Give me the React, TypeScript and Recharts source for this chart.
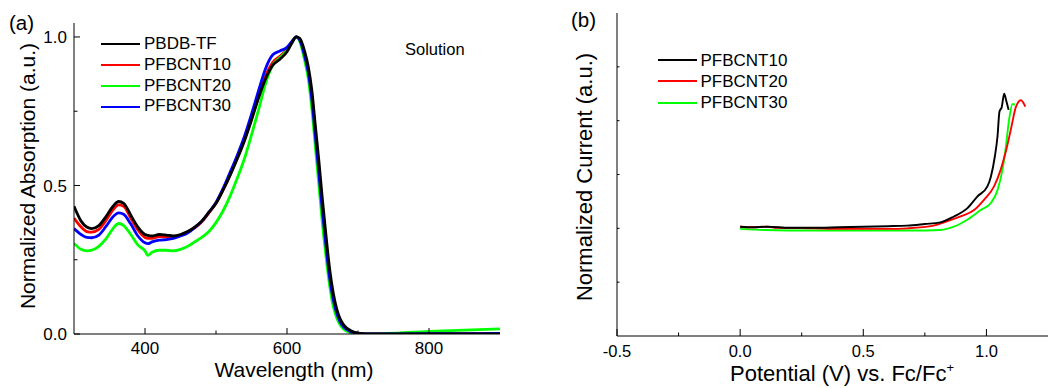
import React from 'react';
import { LineChart, Line, XAxis, YAxis, Label, Legend } from 'recharts';

const FONT = '"Liberation Sans", Arial, Helvetica, sans-serif';

// (a) normalized absorption in solution
const wavelengths = [
  300, 310, 318, 325, 335, 345, 355, 363, 370, 380,
  390, 400, 404, 410, 420, 430, 440, 450, 460, 470,
  480, 490, 500, 510, 520, 530, 540, 550, 560, 570,
  580, 590, 600, 607, 613, 618, 625, 630, 635, 640,
  645, 650, 655, 660, 665, 670, 675, 680, 690, 700,
  720, 800, 900,
];
const absPBDBTF = [
  0.43, 0.38, 0.36, 0.355, 0.365, 0.395, 0.43, 0.446, 0.44, 0.4,
  0.36, 0.335, 0.332, 0.33, 0.335, 0.333, 0.33, 0.335, 0.345, 0.36,
  0.38, 0.41, 0.44, 0.485, 0.535, 0.59, 0.65, 0.72, 0.795, 0.86,
  0.905, 0.925, 0.95, 0.98, 1.0, 0.995, 0.95, 0.9, 0.82, 0.7,
  0.58, 0.45, 0.33, 0.22, 0.14, 0.085, 0.05, 0.03, 0.011, 0.003,
  0.0, 0.0, 0.0,
];
const absPFBCNT10 = [
  0.39, 0.36, 0.345, 0.343, 0.352, 0.382, 0.418, 0.435, 0.43, 0.39,
  0.35, 0.325, 0.322, 0.322, 0.328, 0.327, 0.325, 0.332, 0.343, 0.357,
  0.378, 0.408, 0.44, 0.485, 0.537, 0.595, 0.655, 0.725, 0.8, 0.87,
  0.915, 0.935, 0.958, 0.985, 1.0, 0.99, 0.94, 0.885, 0.8, 0.675,
  0.555, 0.425, 0.305, 0.2, 0.125, 0.075, 0.044, 0.026, 0.009, 0.002,
  0.0, 0.0, 0.001,
];
const absPFBCNT20 = [
  0.305, 0.285, 0.28, 0.282, 0.295, 0.32, 0.355, 0.372, 0.365, 0.335,
  0.3, 0.28, 0.265, 0.275, 0.282, 0.282, 0.28, 0.285, 0.295, 0.31,
  0.325, 0.345, 0.375, 0.415, 0.465, 0.525, 0.59, 0.67, 0.755, 0.845,
  0.905, 0.93, 0.955, 0.983, 1.0, 0.985, 0.92, 0.86, 0.76, 0.63,
  0.5, 0.37, 0.26, 0.165, 0.095, 0.055, 0.03, 0.016, 0.004, 0.001,
  0.0, 0.009, 0.017,
];
const absPFBCNT30 = [
  0.355, 0.335, 0.325, 0.324, 0.333, 0.362, 0.395, 0.408, 0.403, 0.37,
  0.33, 0.307, 0.304, 0.31, 0.316, 0.318, 0.322, 0.33, 0.34, 0.358,
  0.38, 0.41, 0.443, 0.49, 0.545, 0.602, 0.665, 0.74, 0.82, 0.895,
  0.94, 0.953, 0.965, 0.985, 1.0, 0.99, 0.935, 0.88, 0.79, 0.665,
  0.54, 0.41, 0.295, 0.19, 0.118, 0.07, 0.04, 0.023, 0.008, 0.002,
  0.0, 0.001, 0.002,
];
const absNames = ['PBDB-TF', 'PFBCNT10', 'PFBCNT20', 'PFBCNT30'];

// (b) cyclic voltammetry, oxidation scan
const cv10Potential = [0.0, 0.05, 0.11, 0.2, 0.3, 0.4, 0.5, 0.6, 0.678, 0.75, 0.813, 0.868, 0.922, 0.963, 1.004, 1.018, 1.034, 1.045, 1.053, 1.062, 1.072, 1.08, 1.09];
const cv10Current = [2.03, 2.02, 2.03, 2.01, 2.01, 2.02, 2.03, 2.04, 2.05, 2.08, 2.11, 2.22, 2.37, 2.59, 2.78, 2.96, 3.33, 3.71, 4.17, 4.25, 4.5, 4.38, 4.2];
const cv20Potential = [0.0, 0.05, 0.11, 0.15, 0.3, 0.405, 0.5, 0.6, 0.678, 0.786, 0.84, 0.895, 0.95, 0.99, 1.031, 1.058, 1.079, 1.099, 1.12, 1.14, 1.158];
const cv20Current = [2.03, 2.02, 2.03, 2.01, 2.0, 1.99, 1.99, 1.99, 2.0, 2.05, 2.13, 2.22, 2.34, 2.53, 2.78, 3.09, 3.43, 3.83, 4.26, 4.38, 4.26];
const cv30Potential = [0.0, 0.1, 0.3, 0.5, 0.7, 0.813, 0.868, 0.922, 0.977, 1.018, 1.045, 1.065, 1.079, 1.092, 1.106, 1.116];
const cv30Current = [1.99, 1.97, 1.96, 1.96, 1.96, 1.97, 2.03, 2.16, 2.34, 2.47, 2.71, 3.09, 3.52, 4.02, 4.31, 4.3];
const cvNames = ['PFBCNT10', 'PFBCNT20', 'PFBCNT30'];

const wlTicks = [400, 500, 600, 700, 800];
const wlLabels = [400, 600, 800];
const absTicks = [0, 0.25, 0.5, 0.75, 1.0];
const absLabels = [0, 0.5, 1.0];
const potTicks = [-0.5, -0.25, 0, 0.25, 0.5, 0.75, 1.0];
const potLabels = [-0.5, 0, 0.5, 1.0];
const curTicks = [1, 2, 3, 4, 5];

const absColors = ['#000000', '#ff0000', '#00ff00', '#0000ff'];
const cvColors = ['#000000', '#ff0000', '#00ff00'];

const absData = wavelengths.map((w, i) => ({
  w,
  pbdb: absPBDBTF[i],
  c10: absPFBCNT10[i],
  c20: absPFBCNT20[i],
  c30: absPFBCNT30[i],
}));
const zip = (v: number[], c: number[]) => v.map((x, i) => ({ v: x, i: c[i] }));
const cv10 = zip(cv10Potential, cv10Current);
const cv20 = zip(cv20Potential, cv20Current);
const cv30 = zip(cv30Potential, cv30Current);

type Side = 'bottom' | 'top' | 'left' | 'right';
interface TickOpts {
  majors: number[];
  major: number;
  minor: number;
  labels?: boolean;
  fontSize?: number;
  gap?: number;
  fmt?: (v: number) => string;
}

// ticks pointing into the plot, labels only on majors
function inwardTick(side: Side, o: TickOpts) {
  return (props: any) => {
    const { x, y, payload } = props;
    const v = Number(payload.value);
    const isMajor = o.majors.some((m) => Math.abs(m - v) < 1e-6);
    const len = isMajor ? o.major : o.minor;
    const [x2, y2] =
      side === 'bottom' ? [x, y - len]
      : side === 'top' ? [x, y + len]
      : side === 'left' ? [x + len, y]
      : [x - len, y];
    let label = null;
    if (o.labels && isMajor) {
      const text = o.fmt ? o.fmt(v) : String(v);
      label = side === 'bottom' ? (
        <text x={x} y={y + (o.gap ?? 20)} textAnchor="middle" fontSize={o.fontSize} fontFamily={FONT} fill="#000">
          {text}
        </text>
      ) : (
        <text x={x - (o.gap ?? 7)} y={y} dy="0.36em" textAnchor="end" fontSize={o.fontSize} fontFamily={FONT} fill="#000">
          {text}
        </text>
      );
    }
    return (
      <g>
        <line x1={x} y1={y} x2={x2} y2={y2} stroke="#000" strokeWidth={1} />
        {label}
      </g>
    );
  };
}

function legendBox(names: string[], colors: string[], rowH: number) {
  return () => (
    <div style={{ fontFamily: FONT, fontSize: 17, color: '#000' }}>
      {names.map((n, i) => (
        <div key={n} style={{ display: 'flex', alignItems: 'center', height: rowH, whiteSpace: 'nowrap' }}>
          <svg width={39} height={4} style={{ display: 'block' }}>
            <line x1={0} y1={2} x2={39} y2={2} stroke={colors[i]} strokeWidth={2.2} />
          </svg>
          <span style={{ marginLeft: 4, lineHeight: `${rowH}px` }}>{n}</span>
        </div>
      ))}
    </div>
  );
}

const axisLine = { stroke: '#000', strokeWidth: 1 };
const ABS_W = 2.8;
const CV_W = 1.9;

function AbsorptionChart() {
  return (
    <LineChart width={520} height={388} data={absData} margin={{ top: 23, right: 20, bottom: 0, left: 0 }}>
      <XAxis
        dataKey="w"
        type="number"
        domain={[300, 900]}
        allowDataOverflow
        ticks={wlTicks}
        interval={0}
        height={54}
        tickSize={0}
        tickMargin={0}
        tickLine={false}
        axisLine={axisLine}
        tick={inwardTick('bottom', { majors: wlLabels, major: 6, minor: 3.5, labels: true, fontSize: 17, gap: 20 })}
      >
        <Label
          content={() => (
            <text x={294} y={377} textAnchor="middle" fontSize={21} fontFamily={FONT} fill="#000">
              Wavelength (nm)
            </text>
          )}
        />
      </XAxis>
      <XAxis
        xAxisId="top"
        orientation="top"
        type="number"
        domain={[300, 900]}
        allowDataOverflow
        ticks={wlTicks}
        interval={0}
        height={0}
        tickSize={0}
        tickMargin={0}
        tickLine={false}
        axisLine={axisLine}
        tick={inwardTick('top', { majors: wlLabels, major: 6, minor: 3.5 })}
      />
      <YAxis
        type="number"
        domain={[0, 1.047]}
        allowDataOverflow
        ticks={absTicks}
        interval={0}
        width={74}
        tickSize={0}
        tickMargin={0}
        tickLine={false}
        axisLine={axisLine}
        tick={inwardTick('left', { majors: absLabels, major: 6, minor: 3.5, labels: true, fontSize: 17, gap: 7, fmt: (v) => v.toFixed(1) })}
      >
        <Label
          content={() => (
            <text x={35} y={176} transform="rotate(-90 35 176)" textAnchor="middle" fontSize={21} fontFamily={FONT} fill="#000">
              Normalized Absorption (a.u.)
            </text>
          )}
        />
      </YAxis>
      <YAxis
        yAxisId="right"
        orientation="right"
        type="number"
        domain={[0, 1.047]}
        allowDataOverflow
        ticks={absTicks}
        interval={0}
        width={0}
        tickSize={0}
        tickMargin={0}
        tickLine={false}
        axisLine={axisLine}
        tick={inwardTick('right', { majors: absLabels, major: 6, minor: 3.5 })}
      />
      <Legend
        layout="vertical"
        align="center"
        verticalAlign="middle"
        wrapperStyle={{ left: 101, top: 34, width: 200, height: 'auto' }}
        content={legendBox(absNames, absColors, 20.8)}
      />
      <Line dataKey="c10" name="PFBCNT10" stroke={absColors[1]} strokeWidth={ABS_W} dot={false} type="monotone" isAnimationActive={false} />
      <Line dataKey="c20" name="PFBCNT20" stroke={absColors[2]} strokeWidth={ABS_W} dot={false} type="monotone" isAnimationActive={false} />
      <Line dataKey="c30" name="PFBCNT30" stroke={absColors[3]} strokeWidth={ABS_W} dot={false} type="monotone" isAnimationActive={false} />
      <Line dataKey="pbdb" name="PBDB-TF" stroke={absColors[0]} strokeWidth={ABS_W} dot={false} type="monotone" isAnimationActive={false} />
    </LineChart>
  );
}

function CvChart() {
  return (
    <LineChart width={519} height={388} margin={{ top: 13, right: 1, bottom: 0, left: 0 }}>
      <XAxis
        dataKey="v"
        type="number"
        domain={[-0.5, 1.25]}
        allowDataOverflow
        ticks={potTicks}
        interval={0}
        height={52}
        tickSize={0}
        tickMargin={0}
        tickLine={false}
        axisLine={axisLine}
        tick={inwardTick('bottom', { majors: potLabels, major: 7, minor: 3.5, labels: true, fontSize: 16.5, gap: 20.5, fmt: (v) => v.toFixed(1) })}
      >
        <Label
          content={() => (
            <text x={312} y={381} textAnchor="middle" fontSize={22} fontFamily={FONT} fill="#000">
              Potential (V) vs. Fc/Fc
              <tspan fontSize={13} dy={-9}>+</tspan>
            </text>
          )}
        />
      </XAxis>
      <XAxis xAxisId="top" orientation="top" type="number" domain={[-0.5, 1.25]} height={0} tick={false} tickLine={false} axisLine={axisLine} />
      <YAxis
        type="number"
        domain={[0, 6]}
        allowDataOverflow
        ticks={curTicks}
        interval={0}
        width={87}
        tickSize={0}
        tickMargin={0}
        tickLine={false}
        axisLine={axisLine}
        tick={inwardTick('left', { majors: curTicks, major: 2.5, minor: 2.5 })}
      >
        <Label
          content={() => (
            <text x={61.5} y={177} transform="rotate(-90 61.5 177)" textAnchor="middle" fontSize={22} fontFamily={FONT} fill="#000">
              Normalized Current (a.u.)
            </text>
          )}
        />
      </YAxis>
      <YAxis
        yAxisId="right"
        orientation="right"
        type="number"
        domain={[0, 6]}
        allowDataOverflow
        ticks={curTicks}
        interval={0}
        width={0}
        tickSize={0}
        tickMargin={0}
        tickLine={false}
        axisLine={axisLine}
        tick={inwardTick('right', { majors: curTicks, major: 4, minor: 4 })}
      />
      <Legend
        layout="vertical"
        align="center"
        verticalAlign="middle"
        wrapperStyle={{ left: 127.5, top: 49.5, width: 200, height: 'auto' }}
        content={legendBox(cvNames, cvColors, 21.3)}
      />
      <Line data={cv30} dataKey="i" name="PFBCNT30" stroke={cvColors[2]} strokeWidth={CV_W} dot={false} type="monotone" isAnimationActive={false} />
      <Line data={cv20} dataKey="i" name="PFBCNT20" stroke={cvColors[1]} strokeWidth={CV_W} dot={false} type="monotone" isAnimationActive={false} />
      <Line data={cv10} dataKey="i" name="PFBCNT10" stroke={cvColors[0]} strokeWidth={CV_W} dot={false} type="monotone" isAnimationActive={false} />
    </LineChart>
  );
}

export default function App() {
  const txt: React.CSSProperties = { position: 'absolute', fontFamily: FONT, color: '#000', whiteSpace: 'nowrap', lineHeight: 1 };
  return (
    <div style={{ position: 'absolute', left: 0, top: 0, width: 1049, height: 388, background: '#fff', overflow: 'hidden' }}>
      <div style={{ position: 'absolute', left: 0, top: 0 }}>
        <AbsorptionChart />
      </div>
      <div style={{ position: 'absolute', left: 530, top: 0 }}>
        <CvChart />
      </div>
      <div style={{ ...txt, left: 9, top: 13, fontSize: 20.5 }}>(a)</div>
      <div style={{ ...txt, left: 571, top: 10, fontSize: 20.5 }}>(b)</div>
      <div style={{ ...txt, left: 405, top: 41, fontSize: 16.5 }}>Solution</div>
    </div>
  );
}
